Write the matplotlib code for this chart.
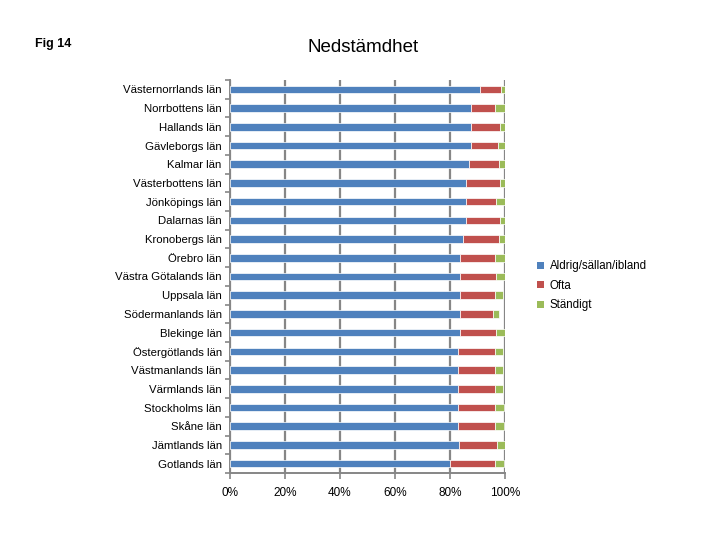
import matplotlib
matplotlib.use("Agg")
import matplotlib.pyplot as plt
from matplotlib.patches import Patch
import numpy as np

plt.rcParams['font.family'] = ['Liberation Sans', 'DejaVu Sans']

# Data (percent), top to bottom
counties = [
    "Västernorrlands län", "Norrbottens län", "Hallands län", "Gävleborgs län",
    "Kalmar län", "Västerbottens län", "Jönköpings län", "Dalarnas län",
    "Kronobergs län", "Örebro län", "Västra Götalands län", "Uppsala län",
    "Södermanlands län", "Blekinge län", "Östergötlands län", "Västmanlands län",
    "Värmlands län", "Stockholms län", "Skåne län", "Jämtlands län", "Gotlands län",
]
aldrig = [90.9, 87.5, 87.5, 87.5, 86.9, 85.8, 85.8, 85.8, 84.8, 83.7, 83.7,
          83.7, 83.7, 83.7, 82.9, 82.9, 82.9, 82.9, 82.9, 83.2, 79.9]
ofta = [7.6, 8.9, 10.7, 10.1, 11.0, 12.4, 10.9, 12.4, 13.0, 12.8, 13.1,
        12.8, 12.1, 13.0, 13.6, 13.6, 13.6, 13.6, 13.6, 14.0, 16.6]
standigt = [1.5, 3.6, 1.8, 2.4, 2.1, 1.8, 3.3, 1.8, 2.2, 3.5, 3.2,
            2.7, 2.1, 3.3, 2.7, 2.7, 2.7, 3.3, 3.3, 2.8, 3.3]
series_names = ["Aldrig/sällan/ibland", "Ofta", "Ständigt"]
colors = ["#4F81BD", "#C0504D", "#9BBB59"]

fig = plt.figure(figsize=(7.2, 5.4), dpi=100)
ax = fig.add_axes([230 / 720, 1 - 473 / 540, 275 / 720, 393 / 540])

y = np.arange(len(counties))
left = np.zeros(len(counties))
for vals, col in zip([aldrig, ofta, standigt], colors):
    ax.barh(y, vals, left=left, height=0.4, color=col,
            edgecolor="white", linewidth=0.5, zorder=3)
    left += np.array(vals)

ax.set_xlim(0, 100)
ax.set_ylim(len(counties) - 0.5, -0.5)
ax.set_xticks(np.arange(0, 101, 20))
ax.set_xticklabels([f"{v}%" for v in range(0, 101, 20)], fontsize=8.5)
ax.set_yticks(y)
ax.set_yticklabels(counties, fontsize=8.2)
ax.set_yticks(np.arange(-0.5, len(counties), 1), minor=True)
ax.tick_params(axis="y", which="major", length=0, pad=6)
ax.tick_params(axis="y", which="minor", length=3.5, color="#868686", width=1.2)
ax.tick_params(axis="x", length=4, color="#868686", width=1.2, pad=6)

ax.grid(axis="x", color="#868686", linewidth=1.6, zorder=0)
for side in ["top", "right"]:
    ax.spines[side].set_visible(False)
for side in ["left", "bottom"]:
    ax.spines[side].set_color("#868686")
    ax.spines[side].set_linewidth(1.4)

fig.text(35 / 720, 1 - 44 / 540, "Fig 14", fontsize=9, fontweight="bold",
         va="center", ha="left")
fig.text(363 / 720, 1 - 48 / 540, "Nedstämdhet", fontsize=13.5,
         va="center", ha="center")

handles = [Patch(facecolor=c, edgecolor="none") for c in colors]
fig.legend(handles, series_names, loc="upper left",
           bbox_to_anchor=(527 / 720, 1 - 250 / 540), frameon=False,
           fontsize=8.3, handlelength=0.55, handleheight=0.55,
           handletextpad=0.5, labelspacing=0.65)

fig.savefig("out.png", dpi=100)
